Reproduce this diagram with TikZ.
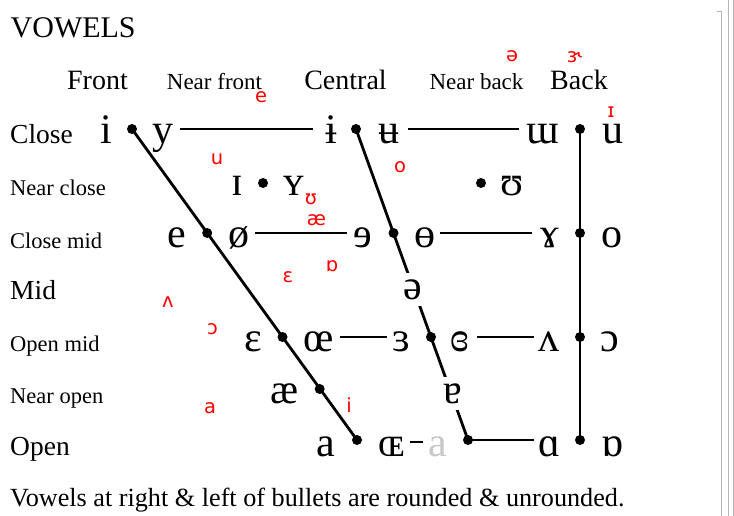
\documentclass[tikz,border=0pt]{standalone}
\usepackage{fontspec}
\setmainfont{Liberation Serif}
\newfontfamily\redfont{DejaVu Sans}
\usetikzlibrary{calc}
\definecolor{lightgrayA}{HTML}{C8C8C8}
\definecolor{edgegray}{HTML}{B4B4B4}
\tikzset{
  ttl/.style={font=\fontsize{30}{32}\selectfont, anchor=base west, inner sep=0pt},
  lab/.style={font=\fontsize{27.5}{30}\selectfont, anchor=base west, inner sep=0pt},
  slab/.style={font=\fontsize{22.5}{25}\selectfont, anchor=base west, inner sep=0pt},
  hd/.style={font=\fontsize{28}{30}\selectfont, anchor=base, inner sep=0pt},
  shd/.style={font=\fontsize{23}{25}\selectfont, anchor=base, inner sep=0pt},
  captxt/.style={font=\fontsize{26.2}{28}\selectfont, anchor=base west, inner sep=0pt},
  v/.style={font=\fontsize{42}{44}\selectfont, anchor=base, inner sep=0pt},
  gapv/.style={v, fill=white, inner xsep=2pt, inner ysep=6.5pt},
  dot/.style={circle, fill=black, inner sep=0pt, minimum size=10pt},
  ln/.style={line width=2.8pt},
  redl/.style={text=red, font=\redfont\fontsize{19.5}{20}\selectfont, inner sep=0pt},
  winedge/.style={draw=edgegray, line width=1pt}
}
\begin{document}
\begin{tikzpicture}[x=1pt,y=-1pt]
\useasboundingbox[fill=white] (0,0) rectangle (734,516);
% window edge
\draw[winedge] (721.7,12) -- (721.7,516);
\draw[winedge] (717,12) -- (721.7,12);
\draw[winedge] (728,0) -- (728,516);
\draw[winedge] (733,0) -- (733,516);

% title and headings
\node[ttl] (title) at (10.5,37.5) {VOWELS};
\node[hd]  (hfront) at (97.5,90) {Front};
\node[shd] (hnfront) at (214.5,90) {Near front};
\node[hd]  (hcentral) at (345.5,90) {Central};
\node[shd] (hnback) at (476.5,90) {Near back};
\node[hd]  (hback) at (579,90) {Back};

% row labels
\node[lab]  (rclose) at (10,143.5) {Close};
\node[slab] (rnclose) at (10,196) {Near close};
\node[slab] (rcmid) at (10,248) {Close mid};
\node[lab]  (rmid) at (10,299.3) {Mid};
\node[slab] (romid) at (10,351.5) {Open mid};
\node[slab] (rnopen) at (10,403) {Near open};
\node[lab]  (ropen) at (10,455.5) {Open};

\node[captxt] (caption) at (10,506) {Vowels at right \& left of bullets are rounded \& unrounded.};

% bullets
\node[dot] (f1) at (132,129) {};
\node[dot] (f3) at (207.2,233) {};
\node[dot] (f5) at (282.5,337) {};
\node[dot] (f6) at (319.7,389) {};
\node[dot] (f7) at (357,440) {};
\node[dot] (c1) at (356,129) {};
\node[dot] (c3) at (393.5,233) {};
\node[dot] (c5) at (431,337) {};
\node[dot] (c7) at (468,440) {};
\node[dot] (k1) at (580,129) {};
\node[dot] (k3) at (580,233) {};
\node[dot] (k5) at (580,337) {};
\node[dot] (k7) at (580,440) {};
\node[dot] (n1) at (263,183) {};
\node[dot] (n2) at (481,183) {};

% diagonals and vertical
\draw[ln] (f1.center) -- (f7.center);
\draw[ln] (c1.center) -- (c7.center);
\draw[ln] (k1.center) -- (k7.center);

% vowels: close
\node[v] (i) at (106,143.5) {i};
\node[v] (y) at (163,143.5) {y};
\node[v] (ibar) at (331,143.5) {ɨ};
\node[v] (ubar) at (389,143.5) {ʉ};
\node[v] (mw) at (543,143.5) {ɯ};
\node[v] (u) at (613,143.5) {u};
% near close
\node[v] (smi) at (237,195.5) {ɪ};
\node[v] (smy) at (294,195.5) {ʏ};
\node[v] (hu) at (512,195.5) {ʊ};
% close mid
\node[v] (e) at (176.5,247.5) {e};
\node[v] (oslash) at (239,247.5) {ø};
\node[v] (reve) at (363,247.5) {ɘ};
\node[v] (baro) at (425,247.5) {ɵ};
\node[v] (ramh) at (550,247.5) {ɤ};
\node[v] (o) at (612,247.5) {o};
% mid
\node[gapv] (schwa) at (413,299) {ə};
% open mid
\node[v] (eps) at (253,351) {ɛ};
\node[v] (oe) at (319,351) {œ};
\node[v] (reveps) at (401,351) {ɜ};
\node[v] (cleps) at (460,351) {ɞ};
\node[v] (wedge) at (549,351) {ʌ};
\node[v] (openo) at (610,351) {ɔ};
% near open
\node[v] (ash) at (285,403) {æ};
\node[gapv] (turna) at (453,403) {ɐ};
% open
\node[v] (a) at (326,456) {a};
\node[v] (OE) at (392,456) {ɶ};
\node[v, text=lightgrayA] (graya) at (438,456) {a};
\node[v] (scripta) at (549,456) {ɑ};
\node[v] (turnscripta) at (612,456) {ɒ};

% horizontal connectors
\draw[ln] ($(y.base |- f1)+(17,0)$) -- ($(ibar.base |- f1)+(-18,0)$);
\draw[ln] ($(ubar.base |- f1)+(19,0)$) -- ($(mw.base |- f1)+(-24,0)$);
\draw[ln] ($(oslash.base |- f3)+(16,0)$) -- ($(reve.base |- f3)+(-16,0)$);
\draw[ln] ($(baro.base |- f3)+(15,0)$) -- ($(ramh.base |- f3)+(-18,0)$);
\draw[ln] ($(oe.base |- f5)+(21,0)$) -- ($(reveps.base |- f5)+(-14,0)$);
\draw[ln] ($(cleps.base |- f5)+(17,0)$) -- ($(wedge.base |- f5)+(-15,0)$);
\draw[line width=2.2pt] ($(OE.base)+(18,-14)$) -- ($(graya.base)+(-15,-14)$);
\draw[ln] (c7.center) -- ($(scripta.base |- c7)+(-15,0)$);

% red letters
\node[redl] (r1) at (261,97.5) {e};
\node[redl] (r2) at (512,56) {ə};
\node[redl] (r3) at (574.5,57.5) {ɝ};
\node[redl] (r4) at (611,112) {ɪ};
\node[redl] (r5) at (217,159) {u};
\node[redl] (r6) at (400,167) {o};
\node[redl] (r7) at (311,199) {ʊ};
\node[redl] (r8) at (316.5,220) {æ};
\node[redl] (r9) at (332,266) {ɒ};
\node[redl] (r10) at (288,277.5) {ɛ};
\node[redl] (r11) at (168,302) {ʌ};
\node[redl] (r12) at (212.5,329) {ɔ};
\node[redl] (r13) at (210,408.5) {a};
\node[redl] (r14) at (349,405) {i};
\end{tikzpicture}
\end{document}
